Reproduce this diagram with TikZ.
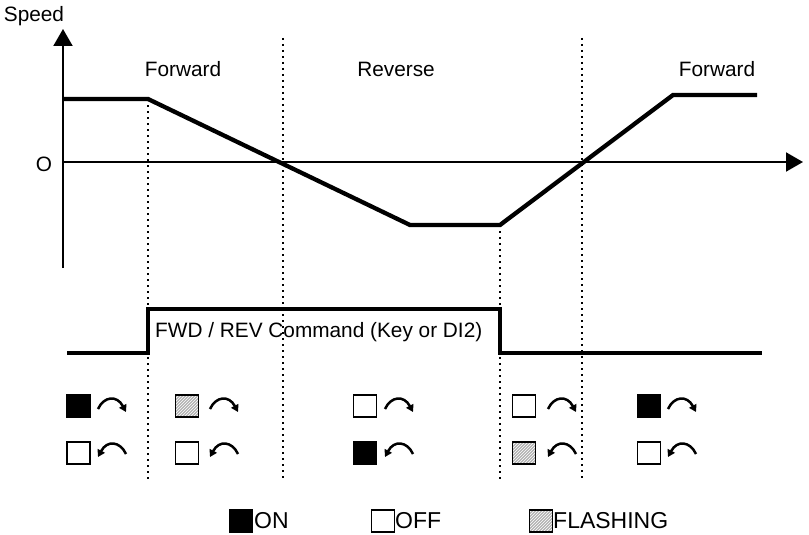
\documentclass[tikz,border=0pt]{standalone}
\usepackage{fontspec}
\setmainfont{Liberation Sans}
\usetikzlibrary{arrows.meta,patterns}
\begin{document}
\begin{tikzpicture}[x=1pt,y=-1pt,
  lbl/.style={font=\fontsize{20.8}{25}\selectfont, inner sep=0pt},
  leg/.style={font=\fontsize{23}{27}\selectfont, inner sep=0pt},
  axis/.style={line width=2pt},
  axtip/.style={-{Triangle[length=17pt,width=19pt]}},
  speedline/.style={line width=4.3pt, line join=miter},
  cmdline/.style={line width=4.5pt},
  guide/.style={line width=2pt, dash pattern=on 2pt off 4pt},
  lamp/.style={draw, line width=1.5pt, minimum width=23pt, minimum height=22pt, inner sep=0pt, outer sep=0pt},
  lampon/.style={lamp, fill=black},
  lampoff/.style={lamp, fill=white},
  lampflash/.style={lamp, preaction={fill=gray!60}, pattern=north east lines, pattern color=white},
  rot/.style={line width=2.5pt, -{Triangle[length=7pt,width=8pt]}},
]
\useasboundingbox (0,0) rectangle (809,535);

% guide lines
\coordinate (g1t) at (148,99);  \coordinate (g1b) at (148,480);
\coordinate (g2t) at (283,38);  \coordinate (g2b) at (283,480);
\coordinate (g3t) at (500,225); \coordinate (g3b) at (500,480);
\coordinate (g4t) at (582,38);  \coordinate (g4b) at (582,480);
\foreach \g in {1,2,3,4} \draw[guide] (g\g t) -- (g\g b);

% axes
\coordinate (yb) at (63,268); \coordinate (yt) at (63,29);
\coordinate (xo) at (63,162); \coordinate (xe) at (803,162);
\draw[axis,axtip] (yb) -- (yt);
\draw[axis,axtip] (xo) -- (xe);
\node[lbl] (speed) at (34,16) {Speed};
\node[lbl] (zero) at (44,164) {O};
\node[lbl] (fwd1) at (183,69) {Forward};
\node[lbl] (rev) at (396,69) {Reverse};
\node[lbl] (fwd2) at (717,69) {Forward};

% speed profile
\coordinate (s0) at (63,99);
\coordinate (s1) at (148,99);
\coordinate (s2) at (410,225);
\coordinate (s3) at (500,225);
\coordinate (s4) at (673,95);
\coordinate (s5) at (757,95);
\draw[speedline] (s0) -- (s1) -- (s2) -- (s3) -- (s4) -- (s5);

% command signal
\coordinate (c0) at (67,353);
\coordinate (c1) at (148,353);
\coordinate (c2) at (148,309);
\coordinate (c3) at (500,309);
\coordinate (c4) at (500,353);
\coordinate (c5) at (762,353);
\draw[cmdline] (c0) -- (c1) -- (c2) -- (c3) -- (c4) -- (c5);
\node[lbl, anchor=west] (cmd) at (155,332) {FWD / REV Command (Key or DI2)};

% lamp states
\node[lampon]    (a1) at (78.5,406) {};
\node[lampoff]   (b1) at (78.5,453) {};
\node[lampflash] (a2) at (187,406) {};
\node[lampoff]   (b2) at (187,453) {};
\node[lampoff]   (a3) at (365,406) {};
\node[lampon]    (b3) at (365,453) {};
\node[lampoff]   (a4) at (524,406) {};
\node[lampflash] (b4) at (524,453) {};
\node[lampon]    (a5) at (649,406) {};
\node[lampoff]   (b5) at (649,453) {};

% rotation arrows
\foreach \ax in {98,210,385,548,668} {
  \draw[rot] (\ax,409) .. controls (\ax+6,396) and (\ax+19,395) .. (\ax+28,412);
  \draw[rot] (\ax+28,454) .. controls (\ax+22,441) and (\ax+9,440) .. (\ax,457);
}

% legend
\node[lampon]    (lon) at (241,521) {};
\node[leg, anchor=west] (ton) at (254,521) {ON};
\node[lampoff]   (loff) at (383,521) {};
\node[leg, anchor=west] (toff) at (395,521) {OFF};
\node[lampflash] (lfl) at (541,521) {};
\node[leg, anchor=west] (tfl) at (553,521) {FLASHING};
\end{tikzpicture}
\end{document}
